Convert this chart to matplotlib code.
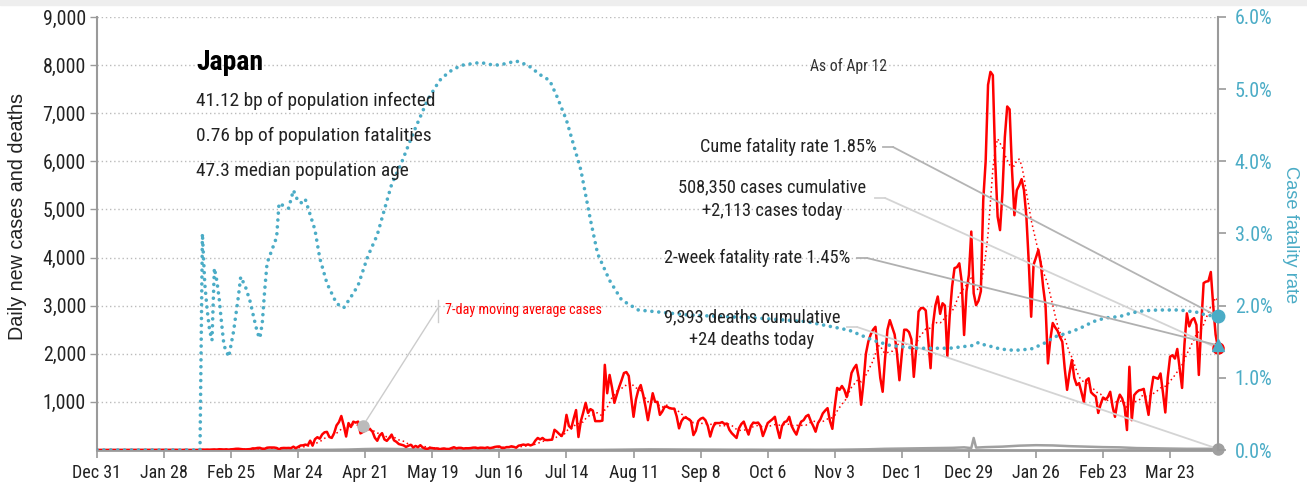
import numpy as np
import pandas as pd
import matplotlib
matplotlib.use('Agg')
import matplotlib.pyplot as plt
from matplotlib import font_manager
from matplotlib.lines import Line2D
from matplotlib.patches import Rectangle

# daily new cases, one row per week, starting Dec 31 2019
cases = [
    0, 0, 0, 0, 0, 0, 0,
    0, 0, 0, 0, 0, 0, 0,
    0, 1, 0, 0, 0, 0, 0,
    0, 1, 0, 0, 1, 0, 2,
    3, 1, 2, 1, 3, 3, 0,
    0, 0, 5, 0, 0, 0, 0,
    0, 3, 8, 6, 8, 6, 8,
    12, 7, 16, 12, 10, 14, 7,
    14, 18, 25, 26, 19, 14, 12,
    15, 19, 34, 33, 43, 45, 25,
    26, 48, 52, 51, 51, 42, 16,
    39, 43, 41, 43, 39, 69, 38,
    65, 94, 97, 112, 98, 194, 90,
    225, 266, 235, 323, 368, 377, 270,
    251, 351, 511, 579, 707, 510, 280,
    560, 478, 589, 569, 590, 346, 375,
    406, 431, 432, 382, 254, 192, 301,
    350, 220, 190, 250, 320, 200, 170,
    124, 110, 96, 64, 88, 109, 54,
    84, 58, 100, 52, 30, 24, 46,
    40, 30, 34, 16, 27, 31, 21,
    21, 40, 58, 36, 45, 44, 31,
    37, 36, 40, 49, 50, 38, 48,
    47, 41, 54, 39, 48, 63, 71,
    73, 43, 44, 60, 60, 77, 66,
    48, 90, 100, 113, 102, 116, 96,
    115, 195, 250, 220, 250, 210, 205,
    210, 215, 420, 380, 330, 290, 400,
    730, 500, 450, 650, 830, 270, 600,
    780, 980, 770, 850, 820, 600, 600,
    600, 610, 1770, 1180, 1560, 1300, 980,
    1150, 1310, 1450, 1600, 1620, 1540, 1100,
    690, 1050, 1250, 1350, 1150, 900, 620,
    900, 1180, 1000, 1000, 730, 800, 900,
    900, 870, 860, 860, 700, 450, 600,
    670, 670, 640, 600, 310, 400, 600,
    650, 670, 620, 500, 280, 450, 560,
    560, 560, 580, 540, 550, 420, 350,
    300, 250, 450, 540, 590, 450, 320,
    500, 570, 560, 570, 500, 290, 420,
    560, 600, 640, 690, 450, 250, 500,
    580, 600, 690, 500, 400, 320, 480,
    590, 620, 700, 730, 600, 500, 380,
    560, 640, 760, 820, 870, 600, 440,
    900, 1290, 1250, 1330, 1250, 1100, 1300,
    1600, 1700, 1770, 1500, 940, 1400, 2000,
    2250, 2400, 2500, 2560, 2000, 1500, 1210,
    1900, 2500, 2700, 2550, 2400, 2000, 1450,
    2000, 2500, 2500, 2450, 2300, 1520, 2100,
    2880, 2950, 2950, 2900, 2300, 1700, 2600,
    3000, 3190, 2830, 3050, 3000, 1950, 2800,
    3400, 3780, 3800, 3880, 3500, 2390, 3300,
    3640, 4540, 3260, 3010, 3100, 3300, 5200,
    6000, 7590, 7860, 7790, 6000, 4850, 4570,
    5340, 6500, 7140, 7080, 5820, 4880, 5400,
    5500, 5630, 5400, 4850, 3900, 2770, 3850,
    4000, 4160, 3880, 3390, 3000, 1800, 2300,
    2640, 2550, 2480, 2350, 2250, 1700, 1250,
    1600, 1870, 1500, 1350, 1390, 1200, 1000,
    1450, 1490, 1200, 1150, 1110, 770, 950,
    1090, 1050, 1100, 1210, 900, 690, 1000,
    1150, 1070, 900, 415, 1730, 620, 1140,
    1200, 1240, 1250, 1270, 1000, 730, 1200,
    1520, 1500, 1480, 1590, 1200, 780, 1500,
    1940, 1970, 1900, 2100, 1700, 1290, 2200,
    2840, 2570, 2700, 2740, 2600, 1560, 2600,
    3470, 3500, 3510, 3700, 3000, 2400, 2113,
]

# case fatality rate (%), read at these day offsets
cfr_days = [0, 43, 44, 45, 46, 47, 48, 49, 50, 51, 52, 53, 55, 57, 59, 60,
            62, 64, 65, 67, 68, 69, 70, 71, 73, 75, 76, 77, 80, 82, 84, 86,
            87, 89, 91, 93, 96, 100, 103, 106, 109, 113, 117, 121, 123, 127,
            132, 138, 143, 147, 152, 160, 166, 170, 175, 180, 185, 189, 192,
            196, 202, 206, 209, 214, 219, 226, 247, 275, 296, 314, 324, 331,
            342, 356, 366, 368, 371, 374, 377, 383, 390, 395, 400, 405, 410,
            416, 421, 427, 432, 437, 443, 452, 459, 463, 468]
cfr_pct = [0, 0, 3.0, 2.3, 1.94, 1.66, 1.52, 2.52, 2.35, 2.1, 1.76, 1.45,
           1.29, 1.64, 2.12, 2.40, 2.26, 2.05, 1.90, 1.62, 1.55, 1.76, 2.21,
           2.59, 2.77, 2.95, 3.42, 3.40, 3.35, 3.60, 3.44, 3.42, 3.47, 3.26,
           3.05, 2.66, 2.31, 2.03, 1.97, 2.12, 2.28, 2.68, 2.98, 3.45, 3.68,
           3.97, 4.39, 4.85, 5.12, 5.24, 5.33, 5.37, 5.33, 5.35, 5.39, 5.33,
           5.20, 5.12, 4.90, 4.57, 3.88, 3.19, 2.72, 2.35, 2.08, 1.94, 1.87,
           1.83, 1.78, 1.66, 1.52, 1.45, 1.41, 1.41, 1.45, 1.49, 1.45, 1.43,
           1.40, 1.38, 1.40, 1.47, 1.57, 1.62, 1.68, 1.78, 1.83, 1.85, 1.90,
           1.93, 1.94, 1.94, 1.91, 1.87, 1.85]

# daily deaths, read at these day offsets
death_days = [0, 42, 56, 70, 84, 98, 105, 112, 119, 126, 133, 140, 147, 154,
              161, 168, 175, 182, 189, 196, 203, 210, 217, 224, 231, 238, 245,
              252, 259, 266, 273, 280, 287, 294, 301, 308, 315, 322, 329, 336,
              343, 350, 357, 362, 365, 366, 367, 371, 378, 385, 392, 399, 406,
              413, 420, 427, 434, 441, 448, 455, 462, 468]
deaths = [0, 0, 1, 2, 3, 5, 10, 20, 25, 20, 15, 8, 5, 3, 2, 2, 1, 1, 0, 1, 2,
          3, 6, 10, 13, 12, 10, 9, 8, 6, 7, 5, 6, 6, 5, 6, 10, 15, 25, 30, 35,
          40, 45, 55, 40, 250, 50, 60, 70, 90, 100, 95, 80, 70, 60, 55, 40, 35,
          30, 25, 25, 24]

info_lines = ['41.12 bp of population infected',
              '0.76 bp of population fatalities',
              '47.3 median population age']

assert len(cases) == 469

# use a condensed face if one is installed
installed = {f.name for f in font_manager.fontManager.ttflist}
if 'Roboto Condensed' in installed:
    plt.rcParams['font.family'] = ['Roboto Condensed', 'DejaVu Sans']
elif 'Liberation Sans Narrow' in installed:
    plt.rcParams['font.family'] = ['Liberation Sans Narrow', 'DejaVu Sans']
else:
    plt.rcParams['font.family'] = ['Liberation Sans', 'DejaVu Sans']
plt.rcParams['font.weight'] = 'normal'

W, H = 1307, 488
teal = '#4bacc6'
dark = '#222222'
spine_c = '#9a9a9a'

days = np.arange(len(cases))
start = pd.Timestamp('2019-12-31')
ma7 = pd.Series(cases).rolling(7, min_periods=1).mean()

fig = plt.figure(figsize=(W / 100, H / 100), dpi=100)
renderer = fig.canvas.get_renderer()


def fit_size(s, target, **kw):
    # font size that makes s about target pixels wide
    t = fig.text(0, 0, s, fontsize=20, **kw)
    w = t.get_window_extent(renderer).width
    t.remove()
    return 20 * target / w


fig.patches.append(Rectangle((0, 1 - 5 / H), 1, 5 / H, transform=fig.transFigure,
                             color='#eeeeee', zorder=0))
ax = fig.add_axes([97 / W, (H - 450) / H, 1121 / W, 433 / H])
ax2 = ax.twinx()

ax.plot(days, cases, color='red', lw=1.8, zorder=3)
ax.plot(days, ma7, color='red', lw=1.1, ls=(0, (1, 2)), zorder=3)
ax.plot(death_days, deaths, color='#a0a0a0', lw=1.8, zorder=2)
ax2.plot(cfr_days, cfr_pct, color=teal, lw=2.6, ls=(0, (0.01, 1.9)),
         dash_capstyle='round')

ax.set_xlim(0, len(cases) - 1)
ax.set_ylim(0, 9000)
ax2.set_ylim(0, 6)

tick_days = days[::28]
tick_labels = []
for d in tick_days:
    t = start + pd.Timedelta(days=int(d))
    tick_labels.append(t.strftime('%b ') + str(t.day))
ax.set_xticks(tick_days)
ax.set_xticklabels(tick_labels)

yt = list(range(1000, 9001, 1000))
ax.set_yticks(yt)
ax.set_yticklabels([f'{v:,}' for v in yt])
ax.yaxis.grid(True, ls=(0, (1, 2)), color='#bbbbbb', lw=1)
ax.set_axisbelow(True)

rt = [0, 1, 2, 3, 4, 5, 6]
ax2.set_yticks(rt)
ax2.set_yticklabels([f'{v:.1f}%' for v in rt])

for a in (ax, ax2):
    a.spines['top'].set_visible(False)
ax.spines['right'].set_visible(False)
ax2.spines['left'].set_visible(False)
ax2.spines['bottom'].set_visible(False)
ax.spines['left'].set_color(spine_c)
ax.spines['left'].set_linewidth(1.5)
ax.spines['bottom'].set_color(spine_c)
ax.spines['bottom'].set_linewidth(2)
ax2.spines['right'].set_color(spine_c)
ax2.spines['right'].set_linewidth(1.5)

xs = fit_size('Dec 31', 49)
ys = fit_size('9,000', 43)
rs = fit_size('6.0%', 38)
ax.tick_params(axis='x', direction='out', length=6, width=1.2, color=spine_c,
               labelsize=xs, labelcolor=dark, pad=4)
ax.tick_params(axis='y', direction='out', length=5, width=1, color=spine_c,
               labelsize=ys, labelcolor=dark, pad=3)
ax2.tick_params(axis='y', direction='out', length=6, width=1.2, color=spine_c,
                labelsize=rs, labelcolor=teal, pad=6)

# end markers
ax.plot([days[-1]], [cases[-1]], 'o', color='red', ms=8, clip_on=False, zorder=6)
ax.plot([death_days[-1]], [deaths[-1]], 'o', color='#a0a0a0', ms=8,
        clip_on=False, zorder=6)
ax2.plot([cfr_days[-1]], [cfr_pct[-1]], 'o', color=teal, ms=9, clip_on=False,
         zorder=6)
ax2.plot([days[-1]], [1.45], '^', color=teal, ms=9, clip_on=False, zorder=6)


def ftext(x, y, s, size, **kw):
    fig.text(x / W, 1 - y / H, s, va='center', fontsize=size, **kw)


def leader(axis, x0, x1, y, end, color):
    fig.add_artist(Line2D([x0 / W, x1 / W], [1 - y / H, 1 - y / H],
                          color=color, lw=1.3))
    axis.annotate('', xy=end, xycoords='data', xytext=(x1, H - y),
                  textcoords='figure pixels', annotation_clip=False,
                  arrowprops=dict(arrowstyle='-', color=color, lw=1.3,
                                  shrinkA=0, shrinkB=0))


ftext(196, 62, 'Japan', fit_size('Japan', 67, fontweight='bold'),
      fontweight='bold', color='black')
info_size = fit_size(info_lines[0], 240)
for i, line in enumerate(info_lines):
    ftext(196, 101 + i * 35, line, info_size, color=dark)
ftext(848, 66, 'As of Apr 12', fit_size('As of Apr 12', 77), color='#333333',
      ha='center')

note_size = fit_size('Cume fatality rate 1.85%', 177)
ftext(877, 147, 'Cume fatality rate 1.85%', note_size, color=dark, ha='right')
leader(ax2, 883, 893, 147, (cfr_days[-1], cfr_pct[-1]), '#b4b4b4')

ftext(772, 187, f'{508350:,} cases cumulative', note_size, color=dark,
      ha='center')
ftext(772, 211, f'+{cases[-1]:,} cases today', note_size, color=dark,
      ha='center')
leader(ax, 875, 885, 198, (days[-1], cases[-1]), '#d4d4d4')

ftext(850, 258, '2-week fatality rate 1.45%', note_size, color=dark, ha='right')
leader(ax2, 857, 867, 258, (days[-1], 1.45), '#b0b0b0')

ftext(752, 317, f'{9393:,} deaths cumulative', note_size, color=dark,
      ha='center')
ftext(752, 340, f'+{deaths[-1]} deaths today', note_size, color=dark,
      ha='center')
leader(ax, 847, 857, 327, (death_days[-1], deaths[-1]), '#d4d4d4')

# moving average callout
ma_day = 111
ax.plot([ma_day], [ma7[ma_day]], 'o', color='#bbbbbb', ms=8, zorder=5)
fig.add_artist(Line2D([438 / W, 438 / W], [1 - 300 / H, 1 - 322 / H],
                      color='#cccccc', lw=1))
ax.annotate('', xy=(ma_day, ma7[ma_day]), xycoords='data',
            xytext=(438, H - 308), textcoords='figure pixels',
            arrowprops=dict(arrowstyle='-', color='#cccccc', lw=1,
                            shrinkA=0, shrinkB=4))
ftext(445, 310, '7-day moving average cases',
      fit_size('7-day moving average cases', 157), color='red')

lab_fam = ['Liberation Sans', 'DejaVu Sans']
fig.text(18 / W, 1 - 217 / H, 'Daily new cases and deaths', rotation=90,
         ha='center', va='center', color=dark, family=lab_fam,
         fontsize=fit_size('Daily new cases and deaths', 245, family=lab_fam))
fig.text(1290 / W, 1 - 235 / H, 'Case fatality rate', rotation=270,
         ha='center', va='center', color=teal, family=lab_fam,
         fontsize=fit_size('Case fatality rate', 138, family=lab_fam))

fig.savefig('out.png', dpi=100)
